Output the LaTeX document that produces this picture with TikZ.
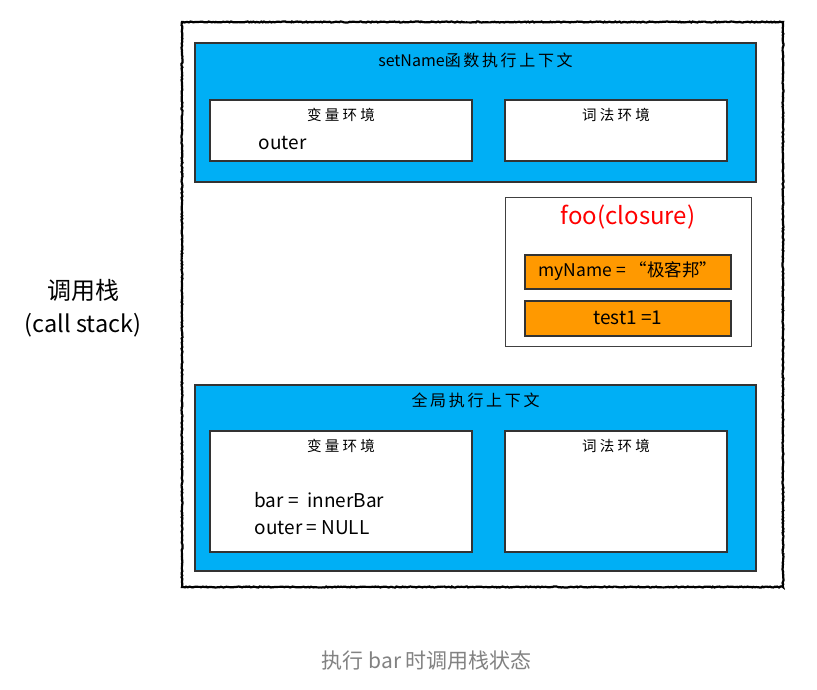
\documentclass[tikz,border=0pt]{standalone}
\usepackage{fontspec}
\setmainfont{Noto Sans CJK SC}
\usetikzlibrary{decorations.pathmorphing}
\definecolor{ctxblue}{RGB}{0,175,245}
\definecolor{varorange}{RGB}{255,153,0}
\definecolor{capgray}{RGB}{130,130,130}
\tikzset{
  stackbox/.style={draw=black, line width=2.2pt, decorate,
    decoration={random steps, segment length=1.5pt, amplitude=0.5pt},
    minimum width=601pt, minimum height=565pt, inner sep=0pt},
  ctxbox/.style={draw=black!80, line width=1.2pt, fill=ctxblue,
    minimum width=561pt, inner sep=0pt},
  envbox/.style={draw=black!80, line width=1.2pt, fill=white, inner sep=0pt},
  closurebox/.style={draw=black!75, line width=1pt, fill=white,
    minimum width=246pt, minimum height=148pt, inner sep=0pt},
  varbox/.style={draw=black!80, line width=1.2pt, fill=varorange,
    minimum width=206pt, inner sep=0pt},
  title/.style={font=\fontsize{16}{18}\selectfont},
  envtitle/.style={font=\fontsize{14.5}{16}\selectfont},
  vartext/.style={font=\fontsize{19}{27}\selectfont, align=left}
}
\begin{document}
\begin{tikzpicture}[x=1pt, y=-1pt]
                \useasboundingbox[fill=white] (0,0) rectangle (817,690);
                \node[stackbox] (stack) at (482.5,304.5) {};
                % setName context
                \node[ctxbox, minimum height=139pt] (setctx) at (475.5,112.5) {};
                \node[title] (settitle) at (475.5,60) {setName函\,数\,执\,行\,上\,下\,文};
                \node[envbox, minimum width=262pt, minimum height=61pt] (setvar) at (341,130.5) {};
                \node[envbox, minimum width=222pt, minimum height=61pt] (setlex) at (616,130.5) {};
                \node[envtitle] (setvartitle) at (341,115) {变\ 量\ 环\ 境};
                \node[envtitle] (setlextitle) at (616,115) {词\ 法\ 环\ 境};
                \node[vartext, anchor=west] (setouter) at (255,143) {outer};
                % closure
                \node[closurebox] (foo) at (628,272) {};
                \node[font=\fontsize{24}{28}\selectfont, text=red] (footitle) at (628,217) {foo(closure)};
                \node[varbox, minimum height=34pt] (myname) at (628,272) {};
                \node[varbox, minimum height=35pt] (test) at (628,318.5) {};
                \node[vartext, font=\fontsize{17.5}{21}\selectfont] (mynametext) at (628,271) {myName = “极客邦”};
                \node[vartext] (testtext) at (628,318) {test1 =1};
                % global context
                \node[ctxbox, minimum height=186pt] (globalctx) at (475.5,478) {};
                \node[title] (globaltitle) at (475.5,400) {全\,局\,执\,行\,上\,下\,文};
                \node[envbox, minimum width=262pt, minimum height=121pt] (globalvar) at (341,491.5) {};
                \node[envbox, minimum width=222pt, minimum height=121pt] (globallex) at (616,491.5) {};
                \node[envtitle] (globalvartitle) at (341,446) {变\ 量\ 环\ 境};
                \node[envtitle] (globallextitle) at (616,446) {词\ 法\ 环\ 境};
                \node[vartext, anchor=west] (globalvars) at (251,513.5) {bar =\ \ innerBar\\outer = NULL};
                % labels
                \node[font=\fontsize{24}{28}\selectfont] (stacklabel) at (83,290) {调用栈};
                \node[font=\fontsize{23.5}{28}\selectfont] (stacklabelen) at (83,325) {(call stack)};
                \node[font=\fontsize{21}{25}\selectfont, text=capgray] (caption) at (427,661) {执行 bar 时调用栈状态};
            \end{tikzpicture}
\end{document}
